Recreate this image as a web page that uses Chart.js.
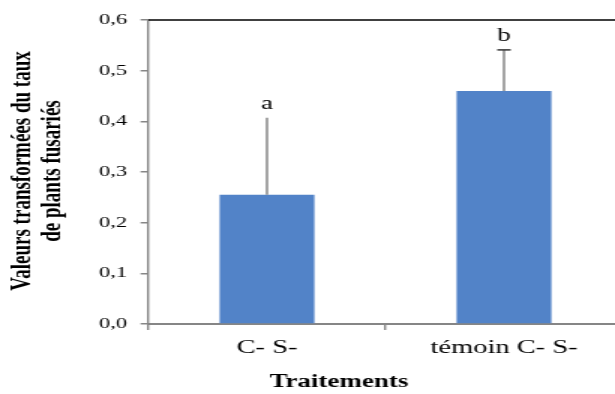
<!DOCTYPE html>
<html lang="fr">
<head>
<meta charset="UTF-8">
<title>Traitements</title>
<style>
    body { margin: 0; background: #fff; overflow: hidden; }
    /* the reference picture is stretched horizontally, so is the canvas */
    #wrap { width: 415px; height: 394px; transform: scaleX(1.5); transform-origin: 0 0; }
</style>
</head>
<body>
<div id="wrap"><canvas id="chart" width="415" height="394"></canvas></div>

<script src="https://cdn.jsdelivr.net/npm/chart.js"></script>
<script>
    const categories = ['C- S-', 'témoin C- S-'];
    const means = [0.255, 0.46];
    const errors = [0.152, 0.081];
    const letters = ['a', 'b'];
    const capWidths = [0, 9];
    const yTitle = ['Valeurs transformées du taux', 'de plants fusariés'];
    const xTitle = 'Traitements';

    const serif = '"Liberation Serif", "Times New Roman", serif';

    // error bars, letters, frame line and axis titles
    const extras = {
        id: 'extras',
        afterDatasetsDraw(chart) {
            const ctx = chart.ctx;
            const y = chart.scales.y;
            const area = chart.chartArea;
            const meta = chart.getDatasetMeta(0);
            ctx.save();

            // black line on top of the plot
            ctx.strokeStyle = '#000';
            ctx.lineWidth = 1.5;
            ctx.beginPath();
            ctx.moveTo(area.left, y.getPixelForValue(0.6));
            ctx.lineTo(chart.width, y.getPixelForValue(0.6));
            ctx.stroke();

            meta.data.forEach((bar, i) => {
                const top = y.getPixelForValue(means[i] + errors[i]);
                ctx.strokeStyle = '#7f7f7f';
                ctx.lineWidth = 1.4;
                ctx.beginPath();
                ctx.moveTo(bar.x, y.getPixelForValue(means[i]));
                ctx.lineTo(bar.x, top);
                ctx.stroke();
                if (capWidths[i] > 0) {
                    ctx.strokeStyle = '#333';
                    ctx.lineWidth = 1.5;
                    ctx.beginPath();
                    ctx.moveTo(bar.x - capWidths[i] / 2, top);
                    ctx.lineTo(bar.x + capWidths[i] / 2, top);
                    ctx.stroke();
                }
                ctx.fillStyle = '#000';
                ctx.font = '18px ' + serif;
                ctx.textAlign = 'center';
                ctx.textBaseline = 'middle';
                ctx.fillText(letters[i], bar.x, top - 14);
            });

            // x title
            ctx.font = 'bold 18px ' + serif;
            ctx.fillText(xTitle, 226, 382);

            // y title, two lines
            ctx.translate(0, 171);
            ctx.rotate(-Math.PI / 2);
            ctx.font = 'bold 19px ' + serif;
            ctx.fillText(yTitle[0], 0, 15);
            ctx.fillText(yTitle[1], 0, 35);
            ctx.restore();
        }
    };

    new Chart(document.getElementById('chart'), {
        type: 'bar',
        data: {
            labels: categories,
            datasets: [{
                data: means,
                backgroundColor: '#5283c8',
                borderWidth: 0,
                barPercentage: 0.4,
                categoryPercentage: 1.0
            }]
        },
        options: {
            responsive: false,
            animation: false,
            devicePixelRatio: 1,
            layout: { padding: { top: 20, right: 0, left: 0, bottom: 0 } },
            plugins: {
                legend: { display: false },
                tooltip: { enabled: false }
            },
            scales: {
                x: {
                    grid: { drawOnChartArea: false, tickLength: 6, color: '#868686', lineWidth: 1.4 },
                    border: { color: '#868686', width: 2 },
                    ticks: { color: '#000', padding: 7, font: { family: serif, size: 19 } },
                    afterFit(scale) { scale.height = 70; }
                },
                y: {
                    min: 0,
                    max: 0.6,
                    grid: { drawOnChartArea: false, tickLength: 5.3, color: '#868686', lineWidth: 1.5 },
                    border: { color: '#868686', width: 1.4 },
                    ticks: {
                        stepSize: 0.1,
                        color: '#000',
                        padding: 9,
                        font: { family: serif, size: 15 },
                        callback: v => v.toFixed(1).replace('.', ',')
                    },
                    afterFit(scale) { scale.width = 99; }
                }
            }
        },
        plugins: [extras]
    });
</script>
</body>
</html>
